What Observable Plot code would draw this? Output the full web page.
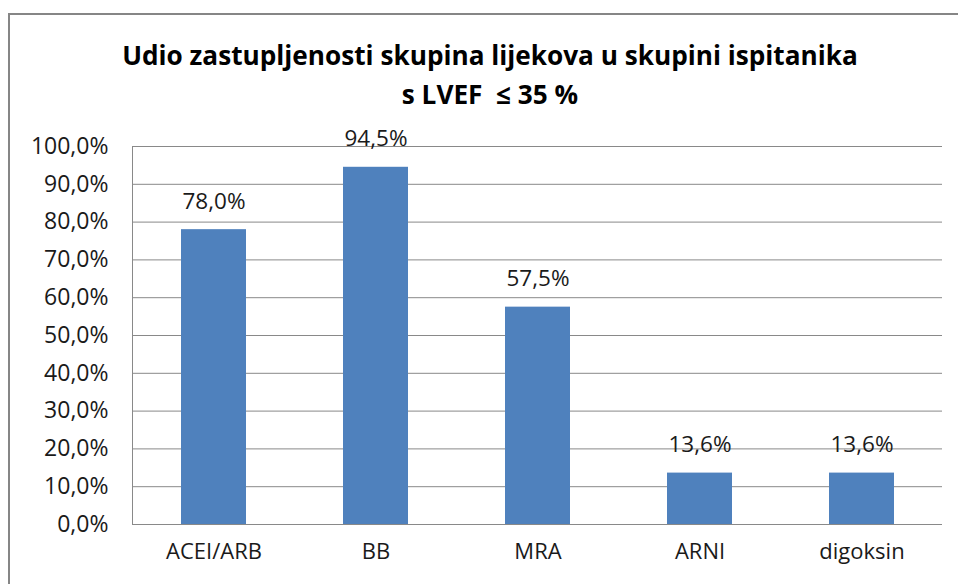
<!DOCTYPE html>
<html>
<head>
<meta charset="utf-8">
<script src="https://cdn.jsdelivr.net/npm/d3@7"></script>
<script src="https://cdn.jsdelivr.net/npm/@observablehq/plot@0.6"></script>
<style>
  html, body { margin: 0; padding: 0; background: #fff; }
  body { width: 958px; height: 584px; position: relative; overflow: hidden; font-family: "Open Sans", sans-serif; }
  #frame { position: absolute; left: 8px; top: 13px; width: 1000px; height: 640px; border: 2px solid #868686; box-sizing: border-box; }
  #title { position: absolute; left: 0; top: 36px; width: 980px; text-align: center; font-weight: bold; font-size: 26.2px; line-height: 39px; color: #000; }
  #chart { position: absolute; left: 0; top: 0; }
</style>
</head>
<body>
<div id="frame"></div>
<div id="chart"></div>
<div id="title">Udio zastupljenosti skupina lijekova u skupini ispitanika<br>s LVEF &nbsp;≤ 35 %</div>
<script>
const categories = ["ACEI/ARB", "BB", "MRA", "ARNI", "digoksin"];
const values = [0.780, 0.945, 0.575, 0.136, 0.136];
const yTicks = [0, 0.1, 0.2, 0.3, 0.4, 0.5, 0.6, 0.7, 0.8, 0.9, 1.0];

const data = categories.map((c, i) => ({ category: c, value: values[i] }));
const pct = v => (v * 100).toFixed(1).replace(".", ",") + "%";

const chart = Plot.plot({
  width: 958,
  height: 584,
  marginLeft: 132,
  marginRight: 16,
  marginTop: 146,
  marginBottom: 60,
  style: { fontFamily: "Open Sans, sans-serif", fontSize: "22px", color: "#1a1a1a", background: "transparent" },
  x: { domain: categories, paddingInner: 0.6, paddingOuter: 0.3, label: null },
  y: { domain: [0, 1], label: null },
  marks: [
    Plot.gridY(yTicks, { stroke: "#898989", strokeOpacity: 1, strokeWidth: 1 }),
    Plot.barY(data, { x: "category", y: "value", fill: "#4F81BD" }),
    Plot.axisY(yTicks, { tickFormat: pct, tickSize: 0, tickPadding: 24, label: null, fontSize: 23 }),
    Plot.axisX({ tickSize: 0, tickPadding: 19, label: null, fontSize: 22 }),
    Plot.text(data, { x: "category", y: "value", text: d => pct(d.value), dy: -28, fontSize: 22.5, fill: "#1a1a1a" })
  ]
});
const svg = d3.select(chart);
svg.append("line").attr("x1", 132.5).attr("x2", 132.5).attr("y1", 146).attr("y2", 524).attr("stroke", "#898989");
document.getElementById("chart").appendChild(chart);
</script>
</body>
</html>
